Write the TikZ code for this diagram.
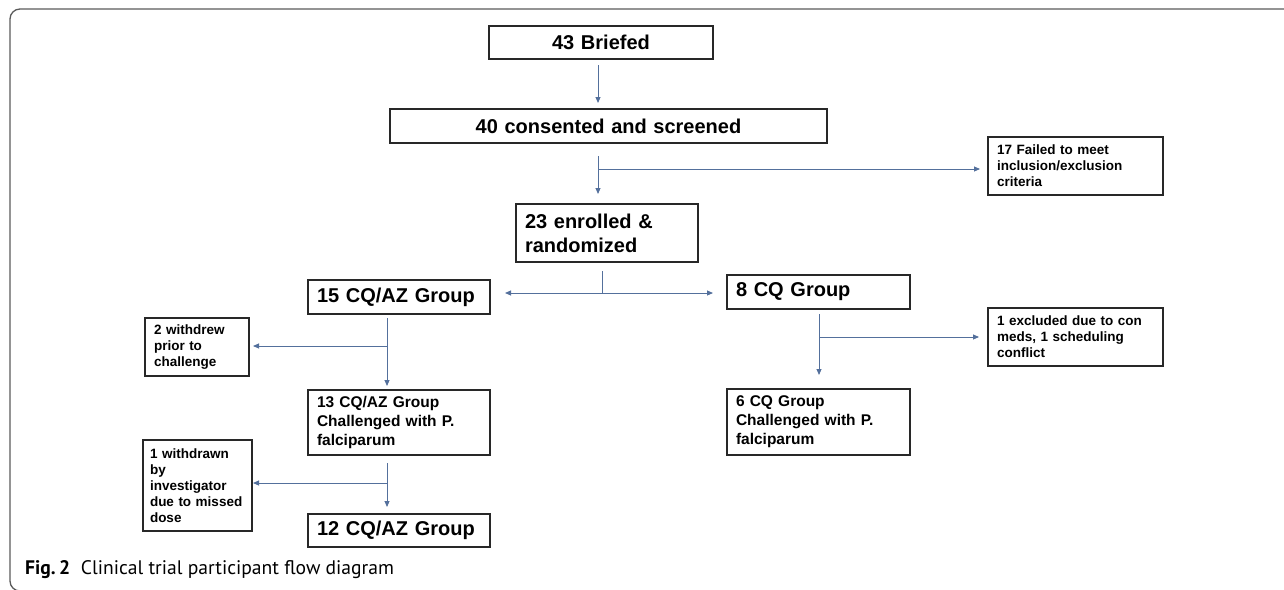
\documentclass[tikz,border=0pt]{standalone}
\usepackage{fontspec}
\setmainfont{Liberation Sans}
\newfontfamily\capfont{PT Sans}
\usetikzlibrary{arrows.meta}
\definecolor{connc}{RGB}{84,112,156}
\definecolor{boxc}{RGB}{40,40,40}
\definecolor{framec}{RGB}{90,90,90}
\tikzset{
  box/.style={draw=boxc, line width=1.3pt, anchor=north west, inner xsep=9pt, inner ysep=0pt, outer sep=0pt, align=left},
  bigtxt/.style={font=\bfseries\fontsize{20}{24}\selectfont},
  midtxt/.style={font=\bfseries\fontsize{15.5}{19}\selectfont},
  smalltxt/.style={font=\bfseries\fontsize{13.5}{16}\selectfont},
  conn/.style={draw=connc, line width=0.9pt},
  arr/.style={conn, -{Triangle[length=6pt,width=5pt]}}
}
\begin{document}
\begin{tikzpicture}[x=1pt,y=-1pt]
\useasboundingbox (0,0) rectangle (1284,589);
\clip (0,0) rectangle (1284,589);
% frame
\draw[framec, line width=1.3pt, rounded corners=10pt] (1300,9) -- (10,9) -- (10,591) -- (200,591);
% boxes
\node[box, bigtxt, align=center, text width=206pt, minimum height=33pt] (briefed) at (489,26) {43 Briefed};
\node[box, bigtxt, align=center, text width=419pt, minimum height=34pt] (consented) at (390,109) {40 consented and screened};
\node[box, smalltxt, text width=157pt, minimum height=58pt] (failed) at (988,137) {17 Failed to meet\\inclusion/exclusion\\criteria};
\node[box, bigtxt, text width=164pt, minimum height=58pt] (enrolled) at (516,204) {23 enrolled \&\\randomized};
\node[box, bigtxt, text width=164pt, minimum height=34pt] (cqaz) at (308,280) {15 CQ/AZ Group};
\node[box, bigtxt, text width=165pt, minimum height=34pt] (cq) at (727,275) {8 CQ Group};
\node[box, smalltxt, text width=86pt, minimum height=58pt] (withdrew) at (145,318) {2 withdrew\\prior to\\challenge};
\node[box, midtxt, text width=164pt, minimum height=65pt] (cqaz13) at (308,390) {13 CQ/AZ Group\\Challenged with P.\\falciparum};
\node[box, smalltxt, text width=157pt, minimum height=58pt] (excluded) at (988,308) {1 excluded due to con\\meds, 1 scheduling\\conflict};
\node[box, midtxt, text width=165pt, minimum height=66pt] (cq6) at (727,389) {6 CQ Group\\Challenged with P.\\falciparum};
\node[box, smalltxt, inner xsep=7pt, text width=95pt, minimum height=91pt] (withdrawn) at (143,440) {1 withdrawn\\by\\investigator\\\mbox{due to missed}\\dose};
\node[box, bigtxt, text width=164pt, minimum height=33pt] (cqaz12) at (308,514) {12 CQ/AZ Group};
% caption
\node[anchor=base west, inner sep=0pt, font=\capfont\fontsize{19.6}{22}\selectfont] (caption) at (25,574) {\textbf{Fig.\,2}\hspace{0.55em}Clinical trial participant flow diagram};
% junctions
\coordinate (sA) at (598,0);
\coordinate (j1) at (598,169);
\coordinate (j2) at (602,293);
\coordinate (j3) at (387,346);
\coordinate (j4) at (387,483);
\coordinate (j5) at (819,337);
% connectors
\draw[arr] ([yshift=-6pt]briefed.south -| sA) -- ([yshift=6pt]consented.north -| sA);
\draw[arr] ([yshift=-13pt]consented.south -| j1) -- ([yshift=10pt]enrolled.north -| j1);
\draw[arr] (j1) -- ([xshift=-8pt]failed.west |- j1);
\draw[conn] ([yshift=-9pt]enrolled.south -| j2) -- (j2);
\draw[arr] (j2) -- ([xshift=15pt]cqaz.east |- j2);
\draw[arr] (j2) -- ([xshift=-14pt]cq.west |- j2);
\draw[arr] ([yshift=-4pt]cqaz.south -| j3) -- ([yshift=4pt]cqaz13.north -| j3);
\draw[arr] (j3) -- ([xshift=4pt]withdrew.east |- j3);
\draw[arr] ([yshift=-8pt]cqaz13.south -| j4) -- ([yshift=7pt]cqaz12.north -| j4);
\draw[arr] (j4) -- ([xshift=1pt]withdrawn.east |- j4);
\draw[arr] ([yshift=-5pt]cq.south -| j5) -- ([yshift=14pt]cq6.north -| j5);
\draw[arr] (j5) -- ([xshift=-9pt]excluded.west |- j5);
\end{tikzpicture}
\end{document}
